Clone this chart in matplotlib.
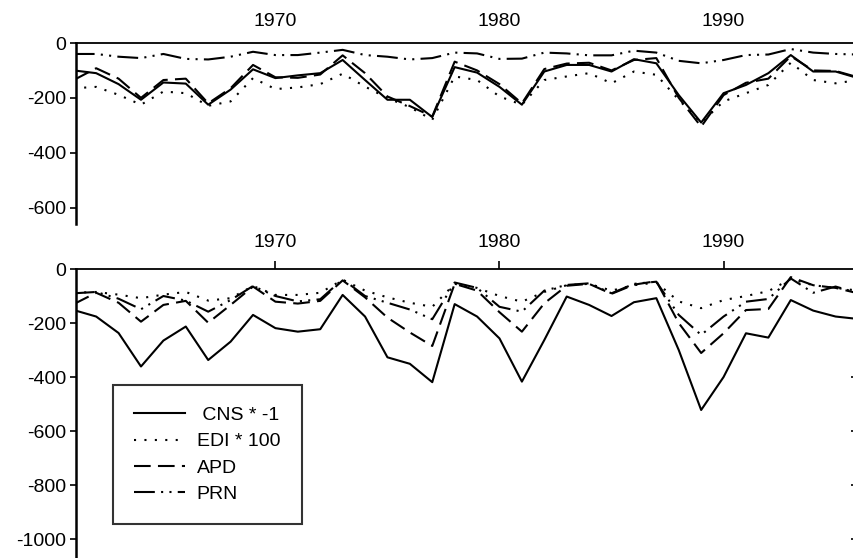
import numpy as np
import matplotlib
matplotlib.use("Agg")
import matplotlib.pyplot as plt

plt.rcParams['font.family'] = ['Liberation Sans', 'DejaVu Sans']

years = np.arange(1961, 1997)

# upper panel
cns_top = [-100, -110, -150, -207, -144, -148, -225, -170, -96, -128, -118, -110, -62, -135,
           -207, -207, -270, -88, -108, -160, -225, -104, -80, -80, -104, -59, -74, -190,
           -290, -183, -153, -110, -44, -104, -104, -128]
edi_top = [-165, -160, -189, -225, -177, -183, -229, -213, -128, -168, -162, -150, -112, -159,
           -201, -234, -280, -122, -135, -195, -225, -135, -122, -110, -147, -104, -116, -207,
           -291, -213, -183, -153, -72, -135, -147, -135]
apd_top = [-135, -92, -130, -200, -135, -130, -220, -165, -80, -125, -127, -115, -45, -110,
           -195, -230, -268, -68, -100, -150, -220, -95, -75, -72, -100, -62, -55, -200,
           -305, -190, -145, -130, -48, -100, -102, -125]
prn_top = [-40, -40, -50, -55, -40, -58, -60, -50, -32, -44, -44, -35, -25, -44,
           -50, -60, -55, -35, -38, -58, -57, -35, -38, -45, -45, -28, -35, -65,
           -74, -62, -44, -42, -22, -35, -40, -42]

# lower panel
cns_bot = [-152, -176, -237, -361, -265, -213, -337, -269, -170, -219, -232, -223, -96, -176,
           -327, -351, -419, -130, -176, -257, -417, -263, -102, -133, -174, -123, -108, -300,
           -522, -400, -238, -254, -115, -154, -176, -185]
edi_bot = [-88, -85, -95, -108, -95, -85, -117, -108, -63, -96, -96, -88, -40, -80,
           -105, -125, -140, -55, -70, -100, -121, -85, -60, -55, -80, -60, -50, -120,
           -145, -115, -100, -82, -37, -60, -70, -80]
apd_bot = [-130, -88, -125, -195, -133, -118, -199, -133, -65, -121, -128, -118, -42, -105,
           -180, -235, -285, -55, -80, -160, -232, -127, -62, -55, -92, -58, -45, -200,
           -311, -238, -152, -148, -30, -60, -70, -90]
prn_bot = [-90, -85, -110, -149, -100, -117, -158, -115, -63, -100, -120, -112, -38, -100,
           -125, -150, -186, -50, -70, -140, -158, -80, -59, -53, -90, -55, -47, -170,
           -244, -176, -121, -111, -35, -88, -65, -89]

labels = [' CNS * -1', 'EDI * 100', 'APD', 'PRN']
xticks = [1970, 1980, 1990]

styles = ['-', (0, (1, 4)), (0, (8, 3.5)), (0, (10, 3, 1, 3, 1, 3))]


def draw_panel(ax, series, ylim, yticks, xtick_len):
    for s, ls, lab in zip(series, styles, labels):
        ax.plot(years, s, color='black', lw=1.5, linestyle=ls, label=lab)
    ax.set_xlim(1961.1, 1996)
    ax.set_ylim(*ylim)
    ax.set_yticks(yticks)
    ax.set_yticklabels([str(t) for t in yticks])
    ax.set_xticks(xticks)
    ax.xaxis.tick_top()
    ax.tick_params(axis='x', length=xtick_len, width=1.2, pad=9 - xtick_len * 0.3, labelsize=14)
    ax.tick_params(axis='y', length=4, width=1.2, pad=3, labelsize=14)
    for side in ['bottom', 'right']:
        ax.spines[side].set_visible(False)
    ax.spines['left'].set_linewidth(1.8)
    ax.spines['top'].set_linewidth(1.3)


fig = plt.figure(figsize=(8.54, 5.58), dpi=100)
ax1 = fig.add_axes([76 / 854, 1 - 224 / 558, 782 / 854, (224 - 43) / 558])
ax2 = fig.add_axes([76 / 854, 0.0, 782 / 854, (558 - 269) / 558])

draw_panel(ax1, [cns_top, edi_top, apd_top, prn_top], (-660, 0), [0, -200, -400, -600], 0)
draw_panel(ax2, [cns_bot, edi_bot, apd_bot, prn_bot], (-1070, 0),
           [0, -200, -400, -600, -800, -1000], 6)

# right-hand tick stubs of the lower panel
ax2r = ax2.twinx()
ax2r.set_ylim(-1070, 0)
ax2r.set_yticks([-400, -600, -800, -1000])
ax2r.tick_params(axis='y', direction='in', length=5, width=1.2, labelright=False)
for side in ax2r.spines:
    ax2r.spines[side].set_visible(False)

leg = ax2.legend(loc='upper left', bbox_to_anchor=(113 / 854, 1 - 385 / 558),
                 bbox_transform=fig.transFigure, fontsize=14, frameon=True, fancybox=False,
                 handlelength=2.6, handletextpad=0.6, labelspacing=0.45,
                 borderpad=1.1, borderaxespad=0)
leg.get_frame().set_edgecolor('black')
leg.get_frame().set_linewidth(1.5)

fig.savefig('out.png', dpi=100)
